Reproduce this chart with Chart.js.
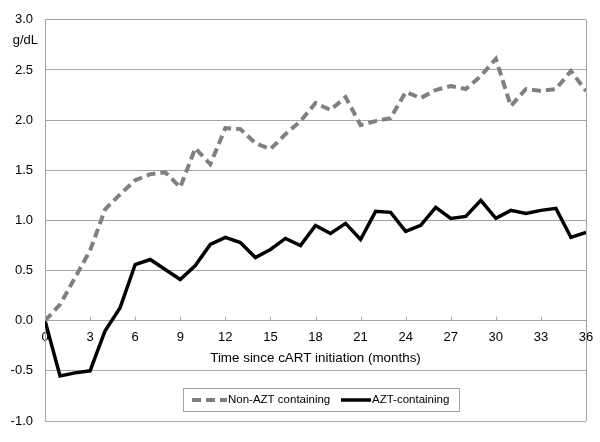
<!DOCTYPE html>
<html>
<head>
<meta charset="utf-8">
<script src="https://cdn.jsdelivr.net/npm/chart.js@4/dist/chart.umd.min.js"></script>
<style>
html,body{margin:0;padding:0;background:#fff;}
#wrap{width:600px;height:442px;position:relative;}
</style>
</head>
<body>
<div id="wrap"><canvas id="c" width="600" height="442"></canvas></div>
<script>
const months = [0,1,2,3,4,5,6,7,8,9,10,11,12,13,14,15,16,17,18,19,20,21,22,23,24,25,26,27,28,29,30,31,32,33,34,35,36];
const nonAZT = [0.00,0.16,0.43,0.70,1.11,1.26,1.40,1.46,1.48,1.33,1.72,1.56,1.92,1.91,1.77,1.71,1.86,1.99,2.17,2.10,2.23,1.95,1.99,2.02,2.28,2.22,2.30,2.34,2.31,2.44,2.61,2.14,2.31,2.29,2.31,2.49,2.29];
const aztContaining = [0.00,-0.55,-0.52,-0.50,-0.10,0.13,0.56,0.61,0.51,0.41,0.55,0.76,0.83,0.78,0.63,0.71,0.82,0.75,0.95,0.87,0.97,0.81,1.09,1.08,0.89,0.95,1.13,1.02,1.04,1.20,1.02,1.10,1.07,1.10,1.12,0.83,0.88];
const seriesNames = ["Non-AZT containing","AZT-containing"];
const xTitle = "Time since cART initiation (months)";
const yUnit = "g/dL";

const FONT = "'Liberation Sans', Arial, sans-serif";
const GRID = "#a6a6a6";

const extras = {
  id: 'extras',
  afterDraw(chart) {
    const ctx = chart.ctx;
    const ca = chart.chartArea;
    const xs = chart.scales.x, ys = chart.scales.y;
    const y0 = ys.getPixelForValue(0);
    ctx.save();
    // right border
    ctx.strokeStyle = GRID; ctx.lineWidth = 1;
    ctx.beginPath();
    ctx.moveTo(Math.round(ca.right) + 0.5, ca.top);
    ctx.lineTo(Math.round(ca.right) + 0.5, ca.bottom);
    ctx.stroke();
    // tick marks above the x axis
    for (let v = 0; v <= 36; v += 3) {
      const px = Math.round(xs.getPixelForValue(v)) + 0.5;
      ctx.beginPath();
      ctx.moveTo(px, y0); ctx.lineTo(px, y0 - 4); ctx.stroke();
    }
    // unit label
    ctx.fillStyle = "#000";
    ctx.font = "13px " + FONT;
    ctx.textAlign = "right"; ctx.textBaseline = "middle";
    ctx.fillText(yUnit, 38, 40);
    // x title
    ctx.textAlign = "center";
    ctx.font = "13.4px " + FONT;
    ctx.fillText(xTitle, (ca.left + ca.right) / 2, 358);
    // legend
    const bx = 183, by = 388, bw = 276, bh = 23;
    ctx.fillStyle = "#fff";
    ctx.fillRect(bx, by, bw, bh);
    ctx.strokeStyle = GRID;
    ctx.lineWidth = 1;
    ctx.strokeRect(bx + 0.5, by + 0.5, bw, bh);
    ctx.font = "11.5px " + FONT;
    ctx.textAlign = "left";
    const ly = by + bh / 2 + 0.5;
    const ds = chart.data.datasets;
    const items = [{x1: 192, x2: 227, tx: 228}, {x1: 341, x2: 371, tx: 372}];
    ds.forEach((d, i) => {
      const it = items[i];
      ctx.strokeStyle = d.borderColor;
      ctx.lineWidth = d.borderWidth;
      ctx.setLineDash(d.borderDash || []);
      ctx.lineCap = 'butt';
      ctx.beginPath(); ctx.moveTo(it.x1, ly); ctx.lineTo(it.x2, ly); ctx.stroke();
      ctx.setLineDash([]);
      ctx.fillStyle = "#000";
      ctx.fillText(d.label, it.tx, ly);
    });
    ctx.restore();
  }
};

new Chart(document.getElementById('c'), {
  type: 'line',
  data: {
    datasets: [
      {
        label: seriesNames[0],
        data: months.map((m, i) => ({x: m, y: nonAZT[i]})),
        borderColor: "#808080",
        borderWidth: 4,
        borderDash: [9, 5],
        borderCapStyle: 'butt',
        pointRadius: 0,
        tension: 0,
        fill: false
      },
      {
        label: seriesNames[1],
        data: months.map((m, i) => ({x: m, y: aztContaining[i]})),
        borderColor: "#000000",
        borderWidth: 3.5,
        pointRadius: 0,
        tension: 0,
        fill: false
      }
    ]
  },
  options: {
    responsive: false,
    animation: false,
    layout: { padding: { top: 18, right: 14, bottom: 21, left: 0 } },
    plugins: {
      legend: { display: false },
      tooltip: { enabled: false },
      title: { display: false }
    },
    scales: {
      x: {
        type: 'linear',
        position: { y: 0 },
        min: 0, max: 36,
        afterFit: (s) => { s.height = 0; s.paddingLeft = 0; s.paddingRight = 0; },
        grid: { display: true, drawOnChartArea: false, drawTicks: false, color: GRID },
        border: { display: true, color: GRID, width: 1 },
        ticks: {
          stepSize: 3,
          padding: 9,
          color: "#000",
          maxRotation: 0,
          autoSkip: false,
          font: { family: FONT, size: 13 },
          callback: (v) => String(v)
        }
      },
      y: {
        min: -1, max: 3,
        afterFit: (s) => { s.width = 45; },
        grid: { color: GRID, lineWidth: 1, drawTicks: false },
        border: { display: true, color: GRID, width: 1 },
        ticks: {
          stepSize: 0.5,
          padding: 12,
          color: "#000",
          font: { family: FONT, size: 13 },
          callback: (v) => Number(v).toFixed(1)
        }
      }
    }
  },
  plugins: [extras]
});
</script>
</body>
</html>
